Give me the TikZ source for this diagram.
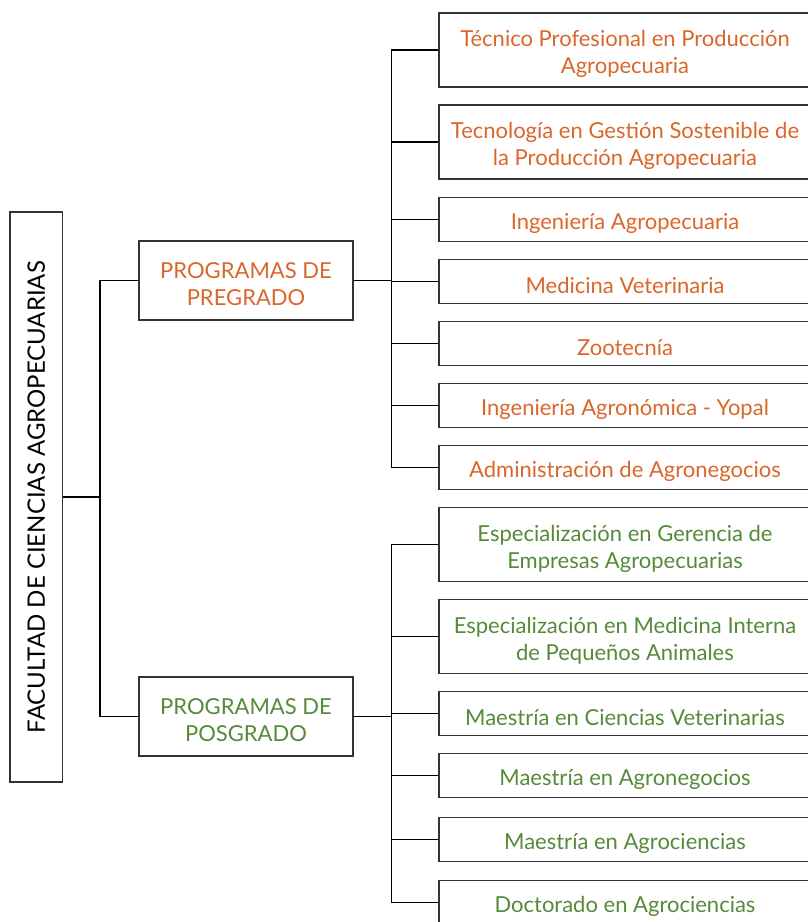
\documentclass[tikz,border=0pt]{standalone}
\usepackage{fontspec}
\setmainfont{Lato}
\definecolor{orng}{RGB}{218,102,42}
\definecolor{grn}{RGB}{85,138,58}
\begin{document}
\begin{tikzpicture}[x=1pt,y=-1pt,
  box/.style={draw=black!80,line width=1.3pt,rectangle,inner sep=0pt},
  txt/.style={inner sep=0pt,align=center,font=\fontsize{22}{27}\selectfont},
  rbox/.style={box,minimum width=372pt,minimum height=44pt},
  rtall/.style={box,minimum width=372pt,minimum height=74pt},
  mbox/.style={box,minimum width=214pt,minimum height=79pt},
  conn/.style={draw=black,line width=1.3pt}]
\useasboundingbox (0,0) rectangle (808,922);
\begin{scope}
\clip (0,0) rectangle (808,922);
\node[box,rotate=90,minimum width=570pt,minimum height=52.5pt,font=\fontsize{24}{28}\selectfont] (fac) at (36.3,497) {FACULTAD DE CIENCIAS AGROPECUARIAS};
\node[mbox] (preg) at (246,280.5) {};
\node[mbox] (posg) at (246,716.5) {};
\node[rtall] (r1) at (625,50) {};
\node[rtall] (r2) at (625,142) {};
\node[rbox] (r3) at (625,219.5) {};
\node[rbox] (r4) at (625,281.5) {};
\node[rbox] (r5) at (625,343.5) {};
\node[rbox] (r6) at (625,405.5) {};
\node[rbox] (r7) at (625,467.5) {};
\node[rtall] (g1) at (625,544.5) {};
\node[rtall] (g2) at (625,636.5) {};
\node[rbox] (g3) at (625,713.5) {};
\node[rbox] (g4) at (625,775.5) {};
\node[rbox] (g5) at (625,839.5) {};
\node[rbox] (g6) at (625,902.7) {};
\begin{scope}[every node/.style={txt}]
\node[text=orng] (pregt) at ([yshift=-3.5pt]preg.center) {PROGRAMAS DE\\PREGRADO};
\node[text=grn] (posgt) at ([yshift=-3.5pt]posg.center) {PROGRAMAS DE\\POSGRADO};
\node[text=orng] (r1t) at ([yshift=-4pt]r1.center) {Técnico Profesional en Producción\\Agropecuaria};
\node[text=orng] (r2t) at ([yshift=-4pt]r2.center) {Tecnología en Gestión Sostenible de\\la Producción Agropecuaria};
\node[text=orng] (r3t) at ([yshift=-4pt]r3.center) {Ingeniería Agropecuaria};
\node[text=orng] (r4t) at ([yshift=-4pt]r4.center) {Medicina Veterinaria};
\node[text=orng] (r5t) at ([yshift=-4pt]r5.center) {Zootecnía};
\node[text=orng] (r6t) at ([yshift=-4pt]r6.center) {Ingeniería Agronómica - Yopal};
\node[text=orng] (r7t) at ([yshift=-4pt]r7.center) {Administración de Agronegocios};
\node[text=grn] (g1t) at ([yshift=-4pt]g1.center) {Especialización en Gerencia de\\Empresas Agropecuarias};
\node[text=grn] (g2t) at ([yshift=-4pt]g2.center) {Especialización en Medicina Interna\\de Pequeños Animales};
\node[text=grn] (g3t) at ([yshift=-4pt]g3.center) {Maestría en Ciencias Veterinarias};
\node[text=grn] (g4t) at ([yshift=-4pt]g4.center) {Maestría en Agronegocios};
\node[text=grn] (g5t) at ([yshift=-4pt]g5.center) {Maestría en Agrociencias};
\node[text=grn] (g6t) at ([yshift=-4pt]g6.center) {Doctorado en Agrociencias};
\end{scope}
\coordinate (j1) at (100,497);
\coordinate (j2) at (391.5,280.5);
\coordinate (j3) at (391.5,716.5);
\draw[conn] (fac.south) -- (j1) |- (preg.west);
\draw[conn] (j1) |- (posg.west);
\draw[conn] (preg.east) -- (j2);
\draw[conn] (posg.east) -- (j3);
\foreach \n in {r1,r2,r3,r4,r5,r6,r7} {\draw[conn] (j2) |- (\n.west);}
\foreach \n in {g1,g2,g3,g4,g5,g6} {\draw[conn] (j3) |- (\n.west);}
\end{scope}
\end{tikzpicture}
\end{document}
